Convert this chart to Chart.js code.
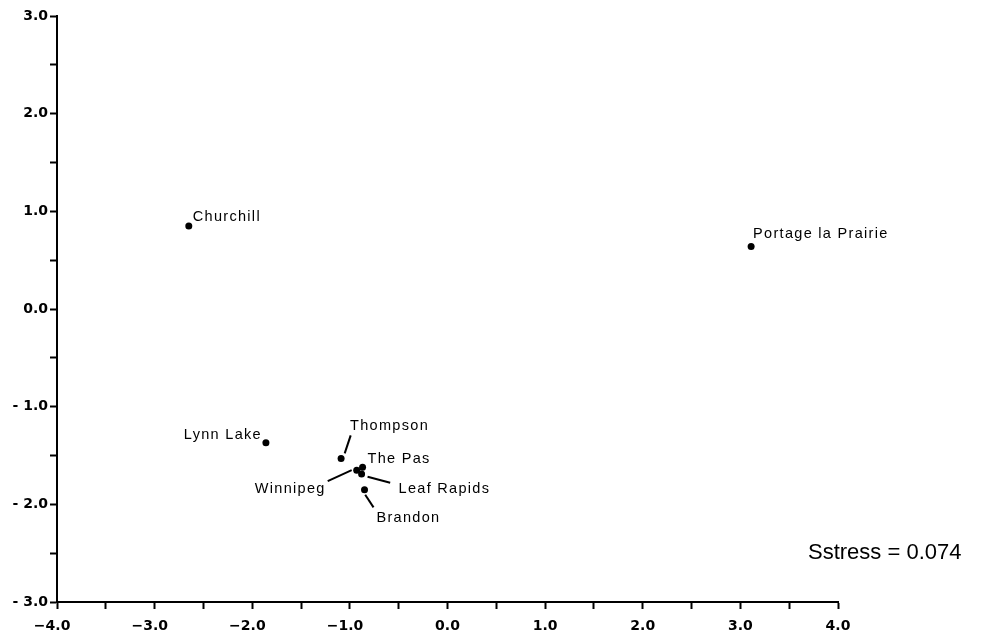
<!DOCTYPE html>
<html>
<head>
<meta charset="utf-8">
<script src="https://cdn.jsdelivr.net/npm/chart.js@4.4.1/dist/chart.umd.min.js"></script>
<style>
  html, body { margin: 0; padding: 0; background: #fff; }
  #wrap { width: 995px; height: 636px; }
</style>
</head>
<body>
<div id="wrap"><canvas id="mdsChart" width="995" height="636"></canvas></div>
<script>
// MDS configuration of Manitoba cities
const cities = ['Churchill', 'Portage la Prairie', 'Lynn Lake', 'Thompson', 'The Pas', 'Winnipeg', 'Leaf Rapids', 'Brandon'];
const dim1 = [-2.65, 3.11, -1.86, -1.09, -0.87, -0.93, -0.88, -0.85];
const dim2 = [0.85, 0.64, -1.37, -1.53, -1.62, -1.65, -1.69, -1.85];
const stressText = 'Sstress = 0.074';

// label placement relative to each point (pixels)
const labelLayout = [
  { dx: 4, dy: -9, align: 'left' },
  { dx: 2, dy: -12, align: 'left' },
  { dx: -4, dy: -8, align: 'right' },
  { dx: 9, dy: -32, align: 'left', line: [3.6, -5, 9.6, -23] },
  { dx: 5, dy: -8, align: 'left' },
  { dx: -31, dy: 19, align: 'right', line: [-5, 0, -29, 11] },
  { dx: 37, dy: 15, align: 'left', line: [6, 2.7, 28.6, 8.7] },
  { dx: 12, dy: 28, align: 'left', line: [0.7, 5, 9, 17.7] }
];

const points = dim1.map((x, i) => ({ x: x, y: dim2[i] }));

function tickLabel(v) {
  if (Math.abs(v - Math.round(v)) > 1e-6) return '';
  return v.toFixed(1);
}

const cityLabels = {
  id: 'cityLabels',
  afterDatasetsDraw(chart) {
    const ctx = chart.ctx;
    const meta = chart.getDatasetMeta(0);
    ctx.save();
    ctx.fillStyle = '#000';
    ctx.strokeStyle = '#000';
    ctx.lineWidth = 2;
    ctx.font = '14.5px "Liberation Sans", Arial, sans-serif';
    ctx.letterSpacing = '1.3px';
    ctx.textBaseline = 'middle';
    meta.data.forEach((pt, i) => {
      const lay = labelLayout[i];
      if (lay.line) {
        ctx.beginPath();
        ctx.moveTo(pt.x + lay.line[0], pt.y + lay.line[1]);
        ctx.lineTo(pt.x + lay.line[2], pt.y + lay.line[3]);
        ctx.stroke();
      }
      ctx.textAlign = lay.align;
      ctx.fillText(cities[i], pt.x + lay.dx, pt.y + lay.dy);
    });
    ctx.letterSpacing = '0px';
    ctx.font = '22px "Liberation Sans", Arial, sans-serif';
    ctx.textAlign = 'left';
    ctx.fillText(stressText, 808, 553);
    ctx.restore();
  }
};

const ctx = document.getElementById('mdsChart').getContext('2d');
new Chart(ctx, {
  type: 'scatter',
  data: {
    datasets: [{
      data: points,
      pointRadius: 3.5,
      pointBackgroundColor: '#000',
      pointBorderWidth: 0
    }]
  },
  options: {
    responsive: false,
    animation: false,
    devicePixelRatio: 1,
    layout: { padding: { left: 0, top: 16, right: 157, bottom: 0 } },
    plugins: {
      legend: { display: false },
      tooltip: { enabled: false }
    },
    scales: {
      x: {
        type: 'linear',
        min: -4,
        max: 4,
        afterFit: s => { s.height = 34; },
        border: { display: true, color: '#000', width: 2 },
        grid: { drawOnChartArea: false, drawTicks: true, tickLength: 7, tickColor: '#000', tickWidth: 2 },
        ticks: {
          stepSize: 0.5,
          autoSkip: false,
          maxRotation: 0,
          padding: 9,
          color: '#000',
          font: { family: '"DejaVu Sans", sans-serif', size: 14, weight: 'bold' },
          callback: v => {
            const t = tickLabel(v);
            if (t && v < 0) return '\u2212' + t.slice(1) + '\u2007';
            return t;
          }
        }
      },
      y: {
        type: 'linear',
        min: -3,
        max: 3,
        afterFit: s => { s.width = 57; },
        border: { display: true, color: '#000', width: 2 },
        grid: { drawOnChartArea: false, drawTicks: true, tickLength: 7, tickColor: '#000', tickWidth: 2 },
        ticks: {
          stepSize: 0.5,
          autoSkip: false,
          padding: 2,
          color: '#000',
          font: { family: '"DejaVu Sans", sans-serif', size: 14, weight: 'bold' },
          callback: v => {
            const t = tickLabel(v);
            if (t && v < 0) return '- ' + t.slice(1);
            return t;
          }
        }
      }
    }
  },
  plugins: [cityLabels]
});
</script>
</body>
</html>
